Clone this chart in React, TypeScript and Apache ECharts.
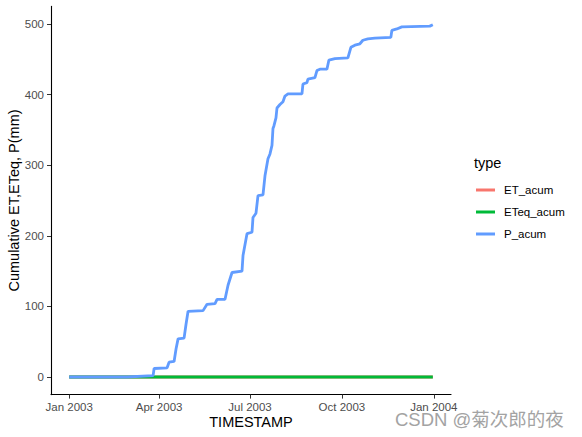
import { useEffect, useRef } from "react";
import * as echarts from "echarts";

// cumulative precipitation (P_acum) at its change points
const pDates = [
  "2003-01-01", "2003-02-28", "2003-03-26", "2003-03-27", "2003-04-09", "2003-04-11",
  "2003-04-16", "2003-04-18", "2003-04-20", "2003-04-26", "2003-04-28", "2003-04-30",
  "2003-05-15", "2003-05-19", "2003-05-27", "2003-05-29", "2003-06-06", "2003-06-09",
  "2003-06-13", "2003-06-23", "2003-06-24", "2003-06-28", "2003-07-03", "2003-07-04",
  "2003-07-07", "2003-07-09", "2003-07-14", "2003-07-16", "2003-07-19", "2003-07-21",
  "2003-07-23", "2003-07-24", "2003-07-25", "2003-07-27", "2003-07-28", "2003-07-31",
  "2003-08-03", "2003-08-05", "2003-08-08", "2003-08-22", "2003-08-23", "2003-08-27",
  "2003-08-28", "2003-09-04", "2003-09-06", "2003-09-09", "2003-09-16", "2003-09-18",
  "2003-09-24", "2003-10-07", "2003-10-10", "2003-10-14", "2003-10-19", "2003-10-22",
  "2003-10-27", "2003-11-03", "2003-11-19", "2003-11-20", "2003-11-25", "2003-11-30",
  "2003-12-28", "2003-12-31",
];
const pValues = [
  0, 0, 2, 12, 13, 21,
  22, 40, 54, 55, 75, 93,
  94, 103, 104, 110, 110, 130,
  148, 150, 172, 203, 205, 226,
  232, 257, 258, 285, 309, 316,
  328, 352, 356, 367, 381, 386,
  390, 398, 401, 401, 415, 417,
  422, 424, 434, 436, 436, 449,
  451, 452, 467, 470, 472, 477,
  479, 480, 481, 491, 493, 496,
  497, 499,
];

const etDates = ["2003-01-01", "2003-12-31"];
const etValues = [0, 0];
const eteqDates = ["2003-01-01", "2003-12-31"];
const eteqValues = [0, 0];

const xTickDates = ["2003-01-01", "2003-04-01", "2003-07-01", "2003-10-01", "2004-01-01"];
const xTickLabels = ["Jan 2003", "Apr 2003", "Jul 2003", "Oct 2003", "Jan 2004"];
const yTicks = [0, 100, 200, 300, 400, 500];

const toTime = (s: string) => {
  const [y, m, d] = s.split("-").map(Number);
  return Date.UTC(y, m - 1, d);
};

const App = () => {
  const chartRef = useRef<HTMLDivElement>(null);

  useEffect(() => {
    document.body.style.margin = "0";
    if (!chartRef.current) return;
    const chart = echarts.init(chartRef.current, null, { renderer: "svg" });

    const xStart = toTime(pDates[0]);
    const xEnd = toTime(pDates[pDates.length - 1]);
    const xPad = (xEnd - xStart) * 0.05;
    const tickTimes = xTickDates.map(toTime);
    const font = "Liberation Sans, Arial, sans-serif";

    const pair = (dates: string[], values: number[]) =>
      dates.map((d, i) => [toTime(d), values[i]]);

    chart.setOption({
      animation: false,
      textStyle: { fontFamily: font },
      grid: {
        left: 51,
        right: 131,
        top: 6.4,
        bottom: 42.4,
        containLabel: false,
        outerBoundsMode: "none",
      },
      xAxis: {
        type: "value",
        min: xStart - xPad,
        max: xEnd + xPad,
        name: "TIMESTAMP",
        nameLocation: "middle",
        nameGap: 20,
        nameMoveOverlap: false,
        nameTextStyle: { color: "#000", fontSize: 14.5, fontFamily: font },
        axisLine: { onZero: false, lineStyle: { color: "#000", width: 1.1 } },
        axisTick: {
          show: true,
          length: 4,
          customValues: tickTimes,
          lineStyle: { color: "#333" },
        },
        axisLabel: {
          customValues: tickTimes,
          margin: 6,
          color: "#4d4d4d",
          fontSize: 11.5,
          fontFamily: font,
          formatter: (v: number) => {
            const i = tickTimes.indexOf(v);
            return i >= 0 ? xTickLabels[i] : "";
          },
        },
        splitLine: { show: false },
      },
      yAxis: {
        type: "value",
        min: -24.95,
        max: 524.95,
        name: "Cumulative ET,ETeq, P(mm)",
        nameLocation: "middle",
        nameGap: 30,
        nameMoveOverlap: false,
        nameTextStyle: { color: "#000", fontSize: 14.5, fontFamily: font },
        axisLine: { show: true, onZero: false, lineStyle: { color: "#000", width: 1.1 } },
        axisTick: {
          show: true,
          length: 4,
          customValues: yTicks,
          lineStyle: { color: "#333" },
        },
        axisLabel: {
          customValues: yTicks,
          margin: 7,
          color: "#4d4d4d",
          fontSize: 11.5,
          fontFamily: font,
        },
        splitLine: { show: false },
      },
      legend: {
        orient: "vertical",
        left: 471,
        top: 174,
        icon: "rect",
        itemWidth: 19,
        itemHeight: 3,
        itemGap: 0,
        textStyle: {
          color: "#000",
          fontSize: 11.5,
          lineHeight: 22,
          padding: [0, 0, 0, 4],
          fontFamily: font,
        },
        data: ["ET_acum", "ETeq_acum", "P_acum"],
      },
      graphic: [
        {
          type: "text",
          left: 474,
          top: 155,
          style: { text: "type", fontSize: 14.5, fill: "#000", fontFamily: font },
        },
        {
          type: "text",
          left: 395,
          top: 410,
          style: {
            text: "CSDN @菊次郎的夜",
            fontSize: 18.5,
            fill: "#a3a3a3",
            fontFamily: "Liberation Sans, Noto Sans CJK SC, sans-serif",
          },
        },
      ],
      series: [
        {
          name: "ET_acum",
          type: "line",
          data: pair(etDates, etValues),
          showSymbol: false,
          itemStyle: { color: "#F8766D" },
          lineStyle: { color: "#F8766D", width: 2.8 },
        },
        {
          name: "ETeq_acum",
          type: "line",
          data: pair(eteqDates, eteqValues),
          showSymbol: false,
          itemStyle: { color: "#00BA38" },
          lineStyle: { color: "#00BA38", width: 2.8 },
        },
        {
          name: "P_acum",
          type: "line",
          data: pair(pDates, pValues),
          showSymbol: false,
          itemStyle: { color: "#619CFF" },
          lineStyle: { color: "#619CFF", width: 2.8 },
        },
      ],
    });

    return () => {
      chart.dispose();
    };
  }, []);

  return <div ref={chartRef} style={{ width: "582px", height: "437px" }} />;
};

export default App;
